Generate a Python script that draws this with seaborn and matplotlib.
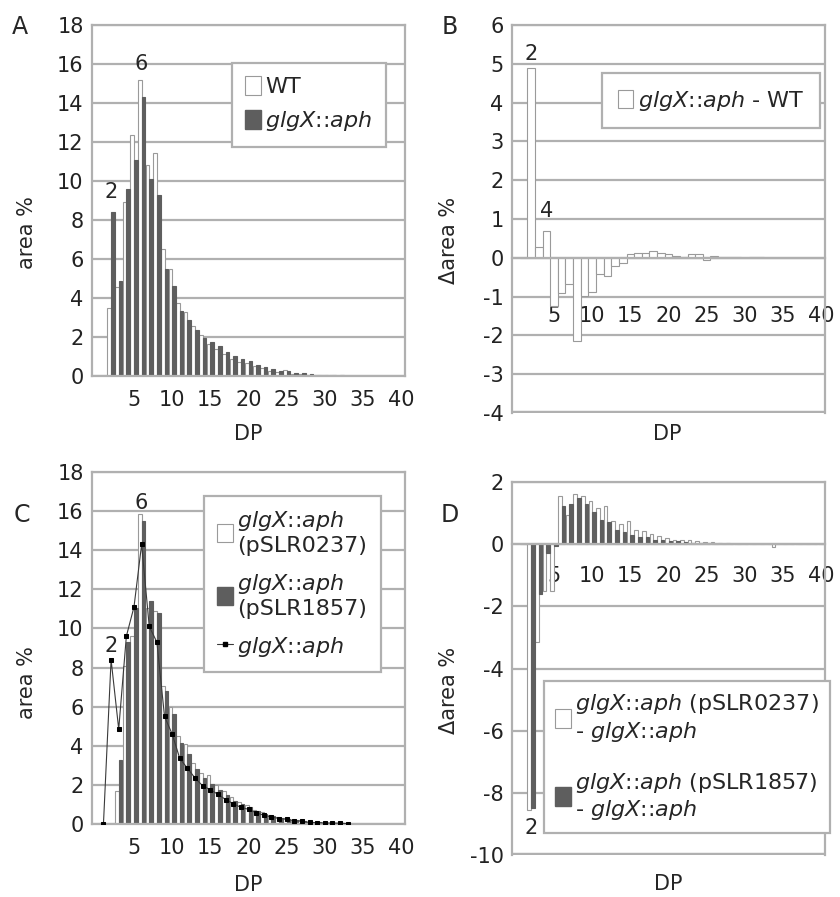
import numpy as np
import pandas as pd
import matplotlib
matplotlib.use('Agg')
import matplotlib.pyplot as plt
import seaborn as sns
from matplotlib.patches import Patch
from matplotlib.lines import Line2D

# degree of polymerisation, 1..40
dp = list(range(1, 41))

# panel A: area % (WT vs glgX::aph)
wt_area = [0, 3.5, 4.55, 8.9, 12.35, 15.2, 10.8, 11.45, 6.5, 5.5,
           3.75, 3.3, 2.55, 2.1, 1.65, 1.4, 1.12, 0.87, 0.72, 0.65,
           0.52, 0.42, 0.26, 0.18, 0.29, 0.12, 0.11, 0.06, 0.05, 0.05,
           0.03, 0.02, 0.02, 0, 0, 0, 0, 0, 0, 0]
glgx_area = [0, 8.4, 4.85, 9.6, 11.1, 14.3, 10.1, 9.3, 5.5, 4.6,
             3.35, 2.85, 2.35, 1.95, 1.75, 1.52, 1.25, 1.04, 0.85, 0.75,
             0.57, 0.45, 0.36, 0.28, 0.24, 0.17, 0.14, 0.08, 0.07, 0.05,
             0.05, 0.04, 0.02, 0, 0, 0, 0, 0, 0, 0]

# panel B: delta area % (glgX::aph - WT)
diff_glgx_wt = [0, 4.9, 0.28, 0.68, -1.25, -0.9, -0.68, -2.15, -0.98, -0.88,
                -0.43, -0.47, -0.2, -0.13, 0.1, 0.13, 0.13, 0.17, 0.13, 0.1,
                0.05, 0.03, 0.1, 0.1, -0.05, 0.05, 0.03, 0.02, 0.02, 0,
                0.02, 0.02, 0, 0, 0, 0, 0, 0, 0, 0]

# panel C: complemented strains
p0237_area = [0, 0, 1.7, 8.1, 9.6, 15.84, 11.05, 10.9, 7.05, 6.0,
              4.5, 4.07, 3.1, 2.6, 2.5, 2.0, 1.67, 1.37, 1.1, 0.95,
              0.72, 0.6, 0.48, 0.38, 0.31, 0.23, 0.18, 0.11, 0.09, 0.07,
              0.06, 0.05, 0.02, 0, 0, 0, 0, 0, 0, 0]
p1857_area = [0, 0, 3.25, 9.3, 11.05, 15.5, 11.4, 10.8, 6.8, 5.65,
              4.15, 3.57, 2.82, 2.35, 2.06, 1.74, 1.47, 1.19, 1.0, 0.85,
              0.67, 0.52, 0.41, 0.32, 0.27, 0.19, 0.16, 0.09, 0.08, 0.05,
              0.04, 0.03, 0.01, 0, 0, 0, 0, 0, 0, 0]
line_n = 33  # glgX::aph line drawn for DP 1..33

# panel D: delta area % (complemented - glgX::aph)
diff_0237 = [0, -8.55, -3.15, -1.5, -1.5, 1.54, 0.95, 1.6, 1.55, 1.4,
             1.16, 1.22, 0.74, 0.65, 0.76, 0.47, 0.42, 0.33, 0.25, 0.2,
             0.15, 0.15, 0.12, 0.1, 0.07, 0.06, 0.04, 0.03, 0.02, 0.02,
             0.01, 0.01, 0, -0.08, 0, 0, 0, 0, 0, 0]
diff_1857 = [0, -8.5, -1.6, -0.3, -0.05, 1.22, 1.29, 1.49, 1.29, 1.04,
             0.79, 0.72, 0.47, 0.4, 0.31, 0.22, 0.22, 0.15, 0.15, 0.1,
             0.1, 0.07, 0.05, 0.04, 0.03, 0.02, 0.02, 0.01, 0.01, 0,
             0, 0, 0, 0, 0, 0, 0, 0, 0, 0]

xtick_vals = [5, 10, 15, 20, 25, 30, 35, 40]

GRID = '#b0b0b0'
EDGE = '#9a9a9a'
DARK = '#5e5e5e'
FS = 15      # ticks, axis titles
LFS = 16     # legends

sns.set_style('white')
plt.rcParams['font.family'] = ['DejaVu Sans']
plt.rcParams['mathtext.fontset'] = 'custom'
plt.rcParams['mathtext.it'] = 'DejaVu Sans:italic'
plt.rcParams['mathtext.rm'] = 'DejaVu Sans'
plt.rcParams['axes.unicode_minus'] = False

G = r'$\it{glgX}$::$\it{aph}$'

W, H = 840, 897
fig = plt.figure(figsize=(W / 100, H / 100), dpi=100)


def box(x0, y0, x1, y1):
    return [x0 / W, 1 - y1 / H, (x1 - x0) / W, (y1 - y0) / H]


axA = fig.add_axes(box(92, 25, 405, 376))
axB = fig.add_axes(box(512, 25, 825, 413))
axC = fig.add_axes(box(92, 472, 405, 824))
axD = fig.add_axes(box(512, 482, 825, 855))


def bars(ax, series, names, colors, width):
    df = pd.DataFrame({
        'DP': dp * len(series),
        'val': sum(series, []),
        'grp': sum([[n] * len(dp) for n in names], []),
    })
    sns.barplot(data=df, x='DP', y='val', hue='grp', hue_order=names,
                native_scale=True, palette=colors, dodge=len(series) > 1,
                width=width, errorbar=None, legend=False, saturation=1,
                linewidth=0.8, edgecolor=EDGE, ax=ax)
    for p in ax.patches:
        fc = p.get_facecolor()
        if fc[0] < 0.5:
            p.set_edgecolor(DARK)


def style(ax, ylo, yhi, ystep, zero_axis, xpad):
    ax.set_xlim(-0.5, 40.5)
    ax.set_ylim(ylo, yhi)
    ax.set_yticks(np.arange(ylo, yhi + 0.01, ystep))
    ax.set_yticklabels([f'{v:g}' for v in np.arange(ylo, yhi + 0.01, ystep)])
    ax.set_xticks(xtick_vals)
    ax.set_xticklabels([str(v) for v in xtick_vals])
    ax.grid(axis='y', color=GRID, lw=1.6)
    ax.grid(axis='x', visible=False)
    ax.set_axisbelow(True)
    for s in ax.spines.values():
        s.set_color(GRID)
        s.set_linewidth(1.6)
    if zero_axis:
        ax.spines['bottom'].set_position(('data', 0))
        ax.axhline(ylo, color=GRID, lw=3.2, clip_on=True, zorder=0)
    ax.tick_params(axis='x', direction='in', length=6, width=1.6,
                   color=GRID, pad=xpad, labelsize=FS, labelcolor='#222222')
    ax.tick_params(axis='y', length=0, pad=6, labelsize=FS,
                   labelcolor='#222222')
    ax.set_xlabel('')
    ax.set_ylabel('')


def legend(ax, handles, labels, anchor, **kw):
    leg = ax.legend(handles, labels, loc='upper left', bbox_to_anchor=anchor,
                    frameon=True, fancybox=False, framealpha=1,
                    edgecolor=GRID, fontsize=LFS, handlelength=0.7,
                    handleheight=0.9, handletextpad=0.2, borderaxespad=0,
                    **kw)
    leg.get_frame().set_linewidth(1.6)
    return leg


white_h = Patch(facecolor='white', edgecolor=EDGE, lw=0.8)
dark_h = Patch(facecolor=DARK, edgecolor=DARK)

# A
bars(axA, [wt_area, glgx_area], ['WT', 'glgX'], ['white', DARK], 0.95)
style(axA, 0, 18, 2, False, 10)
legend(axA, [white_h, dark_h], ['WT', G], (0.447, 0.892),
       borderpad=0.6, labelspacing=0.55)
axA.text(2, 8.9, '2', ha='center', va='bottom', fontsize=FS)
axA.text(6, 15.5, '6', ha='center', va='bottom', fontsize=FS)

# B
bars(axB, [diff_glgx_wt], ['d'], ['white'], 1.0)
style(axB, -4, 6, 1, True, 35)
legend(axB, [white_h], [G + ' - WT'], (0.288, 0.876), borderpad=0.7)
axB.text(2, 5.0, '2', ha='center', va='bottom', fontsize=FS)
axB.text(4, 0.95, '4', ha='center', va='bottom', fontsize=FS)

# C
bars(axC, [p0237_area, p1857_area], ['0237', '1857'], ['white', DARK], 0.95)
sns.lineplot(x=dp[:line_n], y=glgx_area[:line_n], ax=axC, color='#3a3a3a',
             lw=0.8, marker='s', markersize=2.5, markerfacecolor='black',
             markeredgecolor='black', zorder=5)
style(axC, 0, 18, 2, False, 10)
line_h = Line2D([], [], color='#3a3a3a', lw=0.8, marker='s', markersize=2.5,
                markerfacecolor='black', markeredgecolor='black')
legend(axC, [white_h, dark_h, line_h],
       [G + '\n(pSLR0237)', G + '\n(pSLR1857)', G], (0.358, 0.932),
       borderpad=0.6, labelspacing=0.7)
axC.text(2, 8.6, '2', ha='center', va='bottom', fontsize=FS)
axC.text(6, 15.9, '6', ha='center', va='bottom', fontsize=FS)

# D
bars(axD, [diff_0237, diff_1857], ['0237', '1857'], ['white', DARK], 0.95)
style(axD, -10, 2, 2, True, 16)
legend(axD, [white_h, dark_h],
       [G + ' (pSLR0237)\n- ' + G, G + ' (pSLR1857)\n- ' + G],
       (0.102, 0.466), borderpad=0.5, labelspacing=1.2)
axD.text(2, -8.8, '2', ha='center', va='top', fontsize=FS)

# axis titles
for ax, yl, ycoord, xcoord in [
        (axA, 'area %', (-0.176, 0.41), (0.5, -0.137)),
        (axB, '\u0394area %', (-0.17, 0.446), (0.495, -0.028)),
        (axC, 'area %', (-0.176, 0.403), (0.5, -0.145)),
        (axD, '\u0394area %', (-0.17, 0.442), (0.5, -0.05))]:
    ax.set_ylabel(yl, fontsize=FS)
    ax.yaxis.set_label_coords(*ycoord)
    ax.set_xlabel('DP', fontsize=FS)
    ax.xaxis.set_label_coords(*xcoord)

for lab, x, y in [('A', 20, 27), ('B', 450, 27), ('C', 22, 515), ('D', 450, 515)]:
    fig.text(x / W, 1 - y / H, lab, fontsize=17, ha='center', va='center')

fig.savefig('out.png', dpi=100, facecolor='white')
